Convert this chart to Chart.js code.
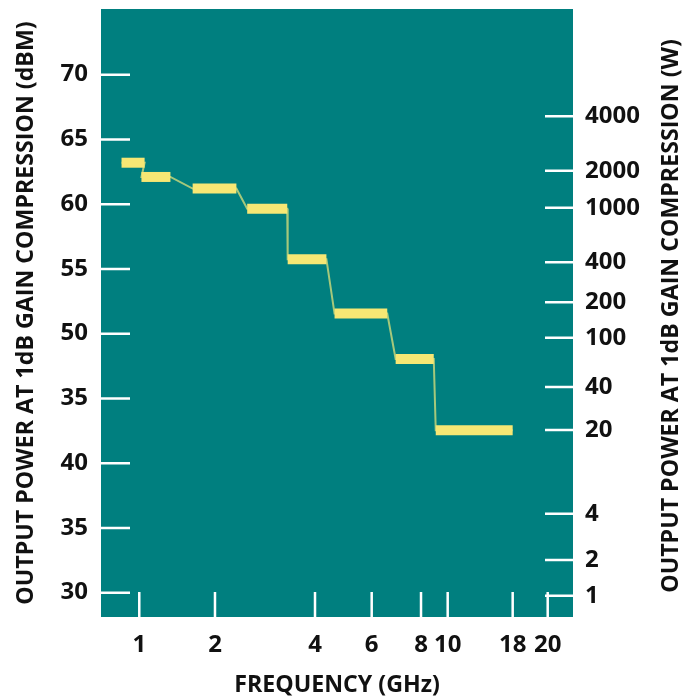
<!DOCTYPE html>
<html>
<head>
<meta charset="utf-8">
<script src="https://cdn.jsdelivr.net/npm/chart.js@4.4.1/dist/chart.umd.min.js"></script>
<style>
  html, body { margin: 0; padding: 0; background: #fff; }
  #wrap { width: 698px; height: 697px; }
</style>
</head>
<body>
<div id="wrap"><canvas id="powerChart" width="698" height="697"></canvas></div>
<script>
// frequency bands (GHz) and output power at 1 dB gain compression (dBm)
const bandStart = [0.85, 1.02, 1.63, 2.5, 3.31, 4.6, 6.9, 9.05];
const bandEnd = [1.05, 1.33, 2.32, 3.3, 4.34, 6.57, 8.9, 18];
const powerDbm = [63.2, 62.1, 61.2, 59.65, 55.75, 51.55, 48.05, 42.55];

// axis ticks (the original labels 45 dBm as "35", kept as printed)
const freqTicks = [1, 2, 4, 6, 8, 10, 18, 20];
const dbmTicks = [30, 35, 40, 45, 50, 55, 60, 65, 70];
const dbmTickLabels = ['30', '35', '40', '35', '50', '55', '60', '65', '70'];
const wattTicks = [1, 2, 4, 20, 40, 100, 200, 400, 1000, 2000, 4000];

// the frequency and watt axes are drawn log-like but unevenly:
// where each tick sits across the plot (fraction from left / from bottom)
const FREQ_SPOTS = [0.0811, 0.2415, 0.4534, 0.5735, 0.678, 0.7345, 0.8722, 0.9464];
const WATT_SPOTS = [0.035, 0.0938, 0.1699, 0.3076, 0.3783, 0.4594, 0.5176, 0.5834, 0.6732, 0.734, 0.8235];

function bentScale(id, values, spots, vertical) {
    const logs = values.map(Math.log10);
    const toFrac = v => {
        const lv = Math.log10(v);
        let i = 0;
        while (i < logs.length - 2 && lv > logs[i + 1]) i++;
        const t = (lv - logs[i]) / (logs[i + 1] - logs[i]);
        return spots[i] + t * (spots[i + 1] - spots[i]);
    };
    const fromFrac = f => {
        let i = 0;
        while (i < spots.length - 2 && f > spots[i + 1]) i++;
        const t = (f - spots[i]) / (spots[i + 1] - spots[i]);
        return Math.pow(10, logs[i] + t * (logs[i + 1] - logs[i]));
    };
    class BentScale extends Chart.LinearScale {
        getPixelForValue(value) {
            const f = toFrac(value);
            return vertical ? this.bottom - f * this.height : this.left + f * this.width;
        }
        getValueForPixel(pixel) {
            return fromFrac(vertical ? (this.bottom - pixel) / this.height : (pixel - this.left) / this.width);
        }
    }
    BentScale.id = id;
    BentScale.defaults = Chart.LinearScale.defaults;
    Chart.register(BentScale);
}
bentScale('freq', freqTicks, FREQ_SPOTS, false);
bentScale('watt', wattTicks, WATT_SPOTS, true);

const tickFont = { family: "'Open Sans', sans-serif", size: 24, weight: 'bold' };
const titleFont = { family: "'Open Sans', sans-serif", size: 23.2, weight: 'bold', lineHeight: 1 };
const textColor = '#111111';

// teal plot area
const tealArea = {
    id: 'tealArea',
    beforeDraw(chart) {
        const { ctx, chartArea: a } = chart;
        ctx.save();
        ctx.fillStyle = '#007f7f';
        ctx.fillRect(a.left, a.top, a.right - a.left, a.bottom - a.top);
        ctx.restore();
    },
};

// white tick marks pointing into the plot
const inwardTicks = {
    id: 'inwardTicks',
    beforeDatasetsDraw(chart) {
        const { ctx, chartArea: a, scales } = chart;
        ctx.save();
        ctx.strokeStyle = '#ffffff';
        ctx.lineWidth = 2.5;
        ctx.beginPath();
        scales.y.ticks.forEach(t => {
            const py = scales.y.getPixelForValue(t.value);
            ctx.moveTo(a.left, py);
            ctx.lineTo(a.left + 29, py);
        });
        scales.yW.ticks.forEach(t => {
            const py = scales.yW.getPixelForValue(t.value);
            ctx.moveTo(a.right - 28, py);
            ctx.lineTo(a.right, py);
        });
        scales.x.ticks.forEach(t => {
            const px = scales.x.getPixelForValue(t.value);
            ctx.moveTo(px, a.bottom);
            ctx.lineTo(px, a.bottom - 25);
        });
        ctx.stroke();
        ctx.restore();
    },
};

// right axis title reads bottom-to-top like the left one
const rightTitle = {
    id: 'rightTitle',
    afterDraw(chart) {
        const { ctx, chartArea: a } = chart;
        ctx.save();
        ctx.translate(chart.scales.yW.right - 27, (a.top + a.bottom) / 2 + 3);
        ctx.rotate(-Math.PI / 2);
        ctx.font = 'bold 23.2px "Open Sans", sans-serif';
        ctx.fillStyle = textColor;
        ctx.textAlign = 'center';
        ctx.textBaseline = 'middle';
        ctx.fillText('OUTPUT POWER AT 1dB GAIN COMPRESSION (W)', 0, 0);
        ctx.restore();
    },
};

const bands = bandStart.map((s, i) => ({
    data: [{ x: s, y: powerDbm[i] }, { x: bandEnd[i], y: powerDbm[i] }],
    borderColor: '#f6e774',
    borderWidth: 10,
    pointRadius: 0,
    yAxisID: 'y',
    order: 1,
}));

const connector = {
    data: bandStart.flatMap((s, i) => [{ x: s, y: powerDbm[i] }, { x: bandEnd[i], y: powerDbm[i] }]),
    borderColor: 'rgba(206, 219, 122, 0.8)',
    borderWidth: 2,
    pointRadius: 0,
    yAxisID: 'y',
    order: 2,
};

const noGrid = { display: false, drawTicks: false };

new Chart(document.getElementById('powerChart'), {
    type: 'line',
    data: { datasets: [...bands, connector] },
    options: {
        responsive: false,
        animation: false,
        events: [],
        layout: { padding: { top: 9 } },
        plugins: {
            legend: { display: false },
            tooltip: { enabled: false },
        },
        scales: {
            x: {
                type: 'freq',
                min: 0.7,
                max: 22,
                grid: noGrid,
                border: { display: false },
                afterBuildTicks: s => { s.ticks = freqTicks.map(v => ({ value: v })); },
                afterFit: s => { s.height = 80; s.paddingLeft = 0; s.paddingRight = 0; },
                ticks: {
                    autoSkip: false,
                    maxRotation: 0,
                    padding: 14,
                    color: textColor,
                    font: tickFont,
                    callback: v => String(v),
                },
                title: {
                    display: true,
                    text: 'FREQUENCY (GHz)',
                    color: textColor,
                    font: titleFont,
                    padding: { top: 0, bottom: 0 },
                },
            },
            y: {
                type: 'linear',
                position: 'left',
                min: 28.12,
                max: 75.07,
                grid: noGrid,
                border: { display: false },
                afterBuildTicks: s => { s.ticks = dbmTicks.map(v => ({ value: v })); },
                afterFit: s => { s.width = 101; s.paddingTop = 0; s.paddingBottom = 0; },
                ticks: {
                    autoSkip: false,
                    padding: 13,
                    color: textColor,
                    font: tickFont,
                    callback: (v, i) => dbmTickLabels[i],
                },
                title: {
                    display: true,
                    text: 'OUTPUT POWER AT 1dB GAIN COMPRESSION (dBM)',
                    color: textColor,
                    font: titleFont,
                    padding: { top: 14.9, bottom: 0 },
                },
            },
            yW: {
                type: 'watt',
                position: 'right',
                min: 0.5,
                max: 40000,
                grid: noGrid,
                border: { display: false },
                afterBuildTicks: s => { s.ticks = wattTicks.map(v => ({ value: v })); },
                afterFit: s => { s.width = 125; s.paddingTop = 0; s.paddingBottom = 0; },
                ticks: {
                    autoSkip: false,
                    padding: 12,
                    color: textColor,
                    font: tickFont,
                    callback: v => String(v),
                },
            },
        },
    },
    plugins: [tealArea, inwardTicks, rightTitle],
});
</script>
</body>
</html>
